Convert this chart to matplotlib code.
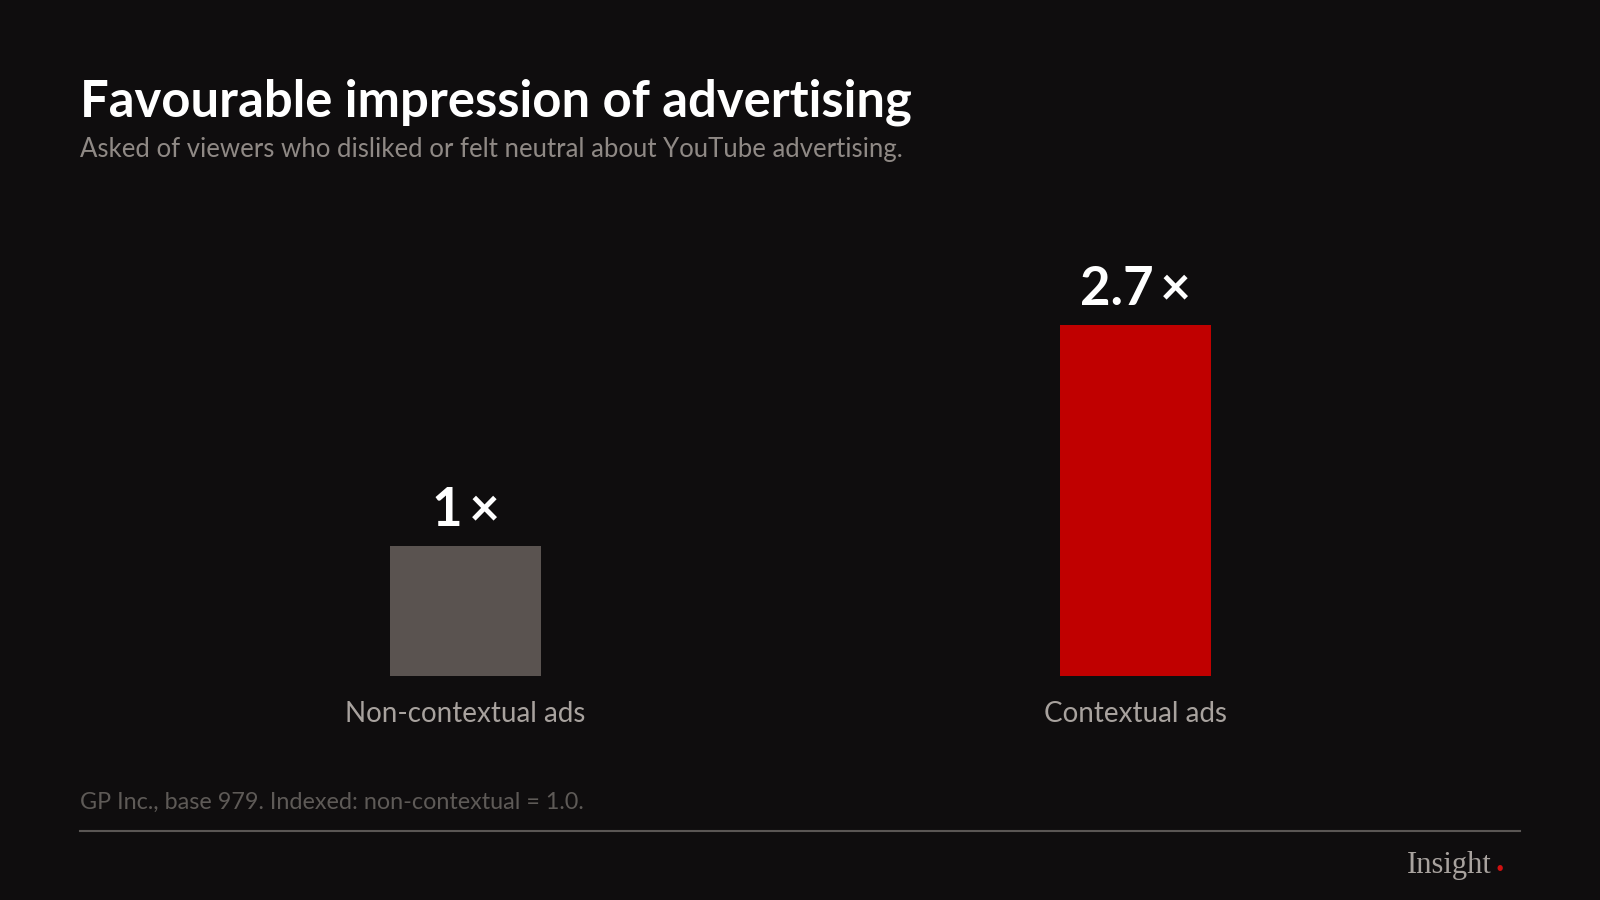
import matplotlib.pyplot as plt
from matplotlib.lines import Line2D

# Data
categories = ["Non-contextual ads", "Contextual ads"]
values = [1.0, 2.7]
value_labels = ["1\u2009×", "2.7\u2009×"]
bar_colors = ["#5a5350", "#c00000"]

title = "Favourable impression of advertising"
subtitle = "Asked of viewers who disliked or felt neutral about YouTube advertising."
footnote = "GP Inc., base 979. Indexed: non-contextual = 1.0."

bg = "#0f0d0e"
W, H = 1600, 900
fam = ["Lato", "DejaVu Sans"]

fig = plt.figure(figsize=(16, 9), dpi=100, facecolor=bg)

# axes placed so one unit of value is ~130 px
ax = fig.add_axes([130.5 / W, 224 / H, 1340 / W, 390 / H])
ax.set_facecolor("none")
ax.set_xlim(-0.5, 1.5)
ax.set_ylim(0, 3.0)
bars = ax.bar(range(len(values)), values, width=151 / 670, color=bar_colors)
for i, (v, lab) in enumerate(zip(values, value_labels)):
    ax.annotate(lab, (i, v), xytext=(0, 20), textcoords="offset pixels",
                ha="center", va="baseline", color="white", fontsize=38,
                fontweight="bold", family=fam)
    ax.annotate(categories[i], (i, 0), xytext=(0, -38), textcoords="offset pixels",
                ha="center", va="center", color="#a8a29e", fontsize=20,
                family=fam)
ax.axis("off")

fig.text(80 / W, 1 - 102 / H, title, color="white", fontsize=36.5,
         fontweight="bold", family=fam, va="center", ha="left")
fig.text(80 / W, 1 - 149 / H, subtitle, color="#8f8985", fontsize=18.5,
         family=fam, va="center", ha="left")
fig.text(80 / W, 1 - 802 / H, footnote, color="#5e5a57", fontsize=16.8,
         family=fam, va="center", ha="left")

fig.add_artist(Line2D([80 / W, 1520 / W], [1 - 831 / H, 1 - 831 / H],
                      color="#5a5654", linewidth=1.5))

fig.text(1492 / W, 1 - 866 / H, "Insight", color="#a8a29e", fontsize=22,
         family="Liberation Serif", va="center", ha="right")
fig.text(1500 / W, 1 - 878 / H, ".", color="#d01010", fontsize=24,
         fontweight="bold", family="Liberation Serif", va="bottom", ha="center")

fig.savefig("out.png", facecolor=bg)
